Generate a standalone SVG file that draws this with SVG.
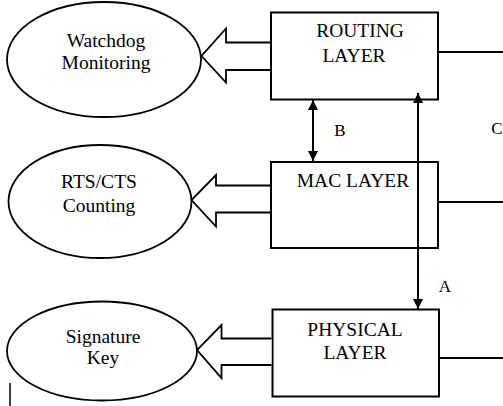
<svg xmlns="http://www.w3.org/2000/svg" width="503" height="406" viewBox="0 0 503 406">
<defs>
<marker id="ah" viewBox="0 0 10 10" refX="10" refY="5" markerWidth="5" markerHeight="5" orient="auto-start-reverse" markerUnits="strokeWidth">
<path d="M0,0 L10,5 L0,10 z" fill="#000"/>
</marker>
</defs>
<rect width="503" height="406" fill="#fff"/>
<g id="nodes" fill="#fff" stroke="#000" stroke-width="2">
<g id="watchdog">
<ellipse cx="104" cy="59.5" rx="97" ry="57.5" stroke-width="1.8"/>
<text x="106" y="47" font-family="Liberation Serif" font-size="19.5" text-anchor="middle" fill="#000" stroke="none">Watchdog</text>
<text x="106" y="69" font-family="Liberation Serif" font-size="19.5" text-anchor="middle" fill="#000" stroke="none">Monitoring</text>
</g>
<g id="rtscts">
<ellipse cx="100" cy="201.5" rx="91.5" ry="56.5" stroke-width="1.8"/>
<text x="99" y="188" font-family="Liberation Serif" font-size="19.5" text-anchor="middle" fill="#000" stroke="none">RTS/CTS</text>
<text x="99" y="211.5" font-family="Liberation Serif" font-size="19.5" text-anchor="middle" fill="#000" stroke="none">Counting</text>
</g>
<g id="signature">
<ellipse cx="102" cy="351" rx="95" ry="49.5" stroke-width="1.8"/>
<text x="103" y="342.5" font-family="Liberation Serif" font-size="19.5" text-anchor="middle" fill="#000" stroke="none">Signature</text>
<text x="103" y="364" font-family="Liberation Serif" font-size="19.5" text-anchor="middle" fill="#000" stroke="none">Key</text>
</g>
<g id="routing">
<rect x="271" y="12.5" width="167" height="87"/>
<text x="360" y="37" font-family="Liberation Serif" font-size="19.5" text-anchor="middle" fill="#000" stroke="none">ROUTING</text>
<text x="354" y="62" font-family="Liberation Serif" font-size="19.5" text-anchor="middle" fill="#000" stroke="none">LAYER</text>
</g>
<g id="mac">
<rect x="271" y="162" width="167" height="86"/>
<text x="353" y="187" font-family="Liberation Serif" font-size="19.5" text-anchor="middle" fill="#000" stroke="none">MAC LAYER</text>
</g>
<g id="physical">
<rect x="272.5" y="309.5" width="166.5" height="87"/>
<text x="355" y="336" font-family="Liberation Serif" font-size="19.5" text-anchor="middle" fill="#000" stroke="none">PHYSICAL</text>
<text x="355" y="359" font-family="Liberation Serif" font-size="19.5" text-anchor="middle" fill="#000" stroke="none">LAYER</text>
</g>
</g>
<g id="connectors" fill="none" stroke="#000" stroke-width="2">
<line x1="438" y1="52" x2="503" y2="52"/>
<line x1="438" y1="202" x2="503" y2="202"/>
<line x1="439" y1="358" x2="503" y2="358"/>
<path fill="#fff" stroke-width="1.8" d="M270,42.5 L226,42.5 L226,28.5 L201.5,56 L226,82.5 L226,70 L270,70"/>
<path fill="#fff" stroke-width="1.8" d="M270,185.5 L216,185.5 L216,175 L191.5,200 L216,226.5 L216,212.5 L270,212.5"/>
<path fill="#fff" stroke-width="1.8" d="M271.5,338.5 L221.5,338.5 L221.5,325 L197,350 L221.5,378 L221.5,365 L271.5,365"/>
<line x1="313" y1="100" x2="313" y2="161" marker-start="url(#ah)" marker-end="url(#ah)"/>
<line x1="418" y1="93" x2="418" y2="309" marker-start="url(#ah)" marker-end="url(#ah)"/>
<line x1="10" y1="383" x2="10" y2="406" stroke-width="1.5"/>
<text x="340" y="136" font-family="Liberation Serif" font-size="17" text-anchor="middle" fill="#000" stroke="none">B</text>
<text x="497" y="134" font-family="Liberation Serif" font-size="17" text-anchor="middle" fill="#000" stroke="none">C</text>
<text x="445" y="292" font-family="Liberation Serif" font-size="17" text-anchor="middle" fill="#000" stroke="none">A</text>
</g>
</svg>
